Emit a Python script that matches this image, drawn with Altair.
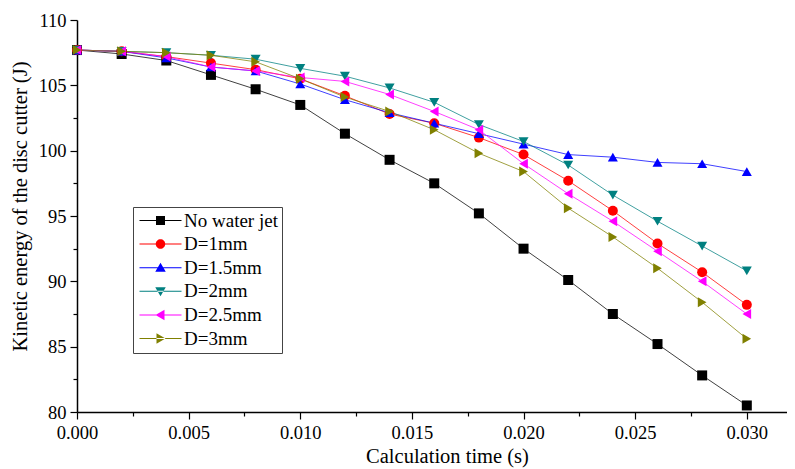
import altair as alt
import pandas as pd

times = [0.000, 0.002, 0.004, 0.006, 0.008, 0.010, 0.012, 0.014,
         0.016, 0.018, 0.020, 0.022, 0.024, 0.026, 0.028, 0.030]

series_names = ["No water jet", "D=1mm", "D=1.5mm", "D=2mm", "D=2.5mm", "D=3mm"]

no_jet = [107.7, 107.4, 106.9, 105.8, 104.7, 103.5, 101.3, 99.3, 97.5, 95.2, 92.5, 90.1, 87.5, 85.2, 82.8, 80.5]
d_1 = [107.7, 107.6, 107.2, 106.7, 106.2, 105.5, 104.2, 102.8, 102.1, 101.0, 99.7, 97.7, 95.4, 92.9, 90.7, 88.2]
d_15 = [107.7, 107.6, 107.1, 106.4, 106.1, 105.1, 103.9, 102.9, 102.1, 101.3, 100.5, 99.7, 99.5, 99.1, 99.0, 98.4]
d_2 = [107.7, 107.6, 107.5, 107.3, 107.0, 106.3, 105.7, 104.8, 103.7, 102.0, 100.7, 98.9, 96.6, 94.6, 92.7, 90.8]
d_25 = [107.7, 107.6, 107.2, 106.4, 106.1, 105.6, 105.3, 104.3, 103.0, 101.6, 99.0, 96.7, 94.6, 92.3, 90.0, 87.5]
d_3 = [107.7, 107.6, 107.5, 107.3, 106.8, 105.5, 104.1, 103.0, 101.6, 99.8, 98.4, 95.6, 93.4, 91.0, 88.4, 85.6]

all_values = [no_jet, d_1, d_15, d_2, d_25, d_3]

colors = ["#000000", "#ff0000", "#0000ff", "#008080", "#ff00ff", "#808000"]
shapes = ["square", "circle", "triangle-up", "triangle-down", "triangle-left", "triangle-right"]
sizes = [100, 100, 130, 130, 130, 130]

x_major = [0.000, 0.005, 0.010, 0.015, 0.020, 0.025, 0.030]
x_minor = [0.0025, 0.0075, 0.0125, 0.0175, 0.0225, 0.0275]
y_major = [80, 85, 90, 95, 100, 105, 110]
y_minor = [82.5, 87.5, 92.5, 97.5, 102.5, 107.5]

# legend symbols: a thin line through the marker
line_path = "M-4.2,-0.1H4.2V0.1H-4.2Z"
marker_paths = [
    "M-0.9,-0.9H0.9V0.9H-0.9Z",
    "M-0.95,0A0.95,0.95,0,1,1,0.95,0A0.95,0.95,0,1,1,-0.95,0Z",
    "M0,-1L1.05,0.8L-1.05,0.8Z",
    "M0,1L1.05,-0.8L-1.05,-0.8Z",
    "M-1,0L0.8,-1.05L0.8,1.05Z",
    "M1,0L-0.8,-1.05L-0.8,1.05Z",
]
legend_paths = [line_path + p for p in marker_paths]

rows = []
for name, vals in zip(series_names, all_values):
    for t, v in zip(times, vals):
        rows.append({"time": t, "energy": v, "series": name})
df = pd.DataFrame(rows)

FONT = "Liberation Serif"

x_enc = alt.X(
    "time:Q",
    scale=alt.Scale(domain=[0, 0.0318], nice=False, zero=False),
    axis=alt.Axis(
        values=sorted(x_major + x_minor),
        labelExpr="round(datum.value/0.0025) % 2 == 0 ? format(datum.value, '.3f') : ''",
        tickSize={"condition": {"test": "round(datum.value/0.0025) % 2 == 0", "value": 7}, "value": 4},
        labelFlush=False,
        labelOverlap=False,
        grid=False,
        title="Calculation time (s)",
        titleX=370,
        titlePadding=5,
        labelPadding=4,
    ),
)
y_enc = alt.Y(
    "energy:Q",
    scale=alt.Scale(domain=[80, 110], nice=False, zero=False),
    axis=alt.Axis(
        values=sorted(y_major + y_minor),
        labelExpr="round(datum.value/2.5) % 2 == 0 ? datum.label : ''",
        tickSize={"condition": {"test": "round(datum.value/2.5) % 2 == 0", "value": 7}, "value": 4},
        labelOverlap=False,
        grid=False,
        title="Kinetic energy of the disc cutter (J)",
        titleY=186,
        titlePadding=8,
        labelPadding=4,
    ),
)

color_scale = alt.Scale(domain=series_names, range=colors)

lines = alt.Chart(df).mark_line(strokeWidth=1, opacity=0.75).encode(
    x=x_enc,
    y=y_enc,
    color=alt.Color("series:N", scale=color_scale, legend=None),
    detail="series:N",
)

points = alt.Chart(df).mark_point(filled=True, opacity=1).encode(
    x=x_enc,
    y=y_enc,
    color=alt.Color("series:N", scale=color_scale, legend=None),
    shape=alt.Shape("series:N", scale=alt.Scale(domain=series_names, range=shapes), legend=None),
    size=alt.Size("series:N", scale=alt.Scale(domain=series_names, range=sizes), legend=None),
)

def make_legend():
    return alt.Legend(
        title=None,
        orient="none",
        legendX=56,
        legendY=187,
        padding=4,
        strokeColor="#444444",
        fillColor="white",
        labelFont=FONT,
        labelFontSize=19,
        labelColor="black",
        labelLimit=300,
        symbolOffset=14,
        labelOffset=14,
        rowPadding=3.6,
        symbolOpacity=1,
        symbolStrokeWidth=0,
        symbolSize=100,
    )

legend_layer = alt.Chart(df).mark_point(filled=True, size=100, clip=True).encode(
    x=alt.value(-200),
    y=alt.value(-200),
    color=alt.Color("series:N", scale=color_scale, sort=series_names, legend=make_legend()),
    shape=alt.Shape(
        "series:N",
        sort=series_names,
        scale=alt.Scale(domain=series_names, range=legend_paths),
        legend=make_legend(),
    ),
)

chart = (
    alt.layer(lines, points, legend_layer)
    .resolve_scale(color="independent", shape="independent")
    .properties(
        width=710,
        height=392,
        autosize=alt.AutoSizeParams(type="none"),
        padding={"left": 69, "top": 12, "right": 0, "bottom": 56},
    )
    .configure_view(stroke=None)
    .configure_axis(
        domainColor="black",
        domainWidth=1.5,
        tickColor="black",
        tickWidth=1.2,
        labelFont=FONT,
        labelFontSize=18.5,
        labelColor="black",
        titleFont=FONT,
        titleFontSize=20.5,
        titleFontWeight="normal",
        titleColor="black",
    )
)

chart.save("out.html", embed_options={"renderer": "svg", "actions": False})
